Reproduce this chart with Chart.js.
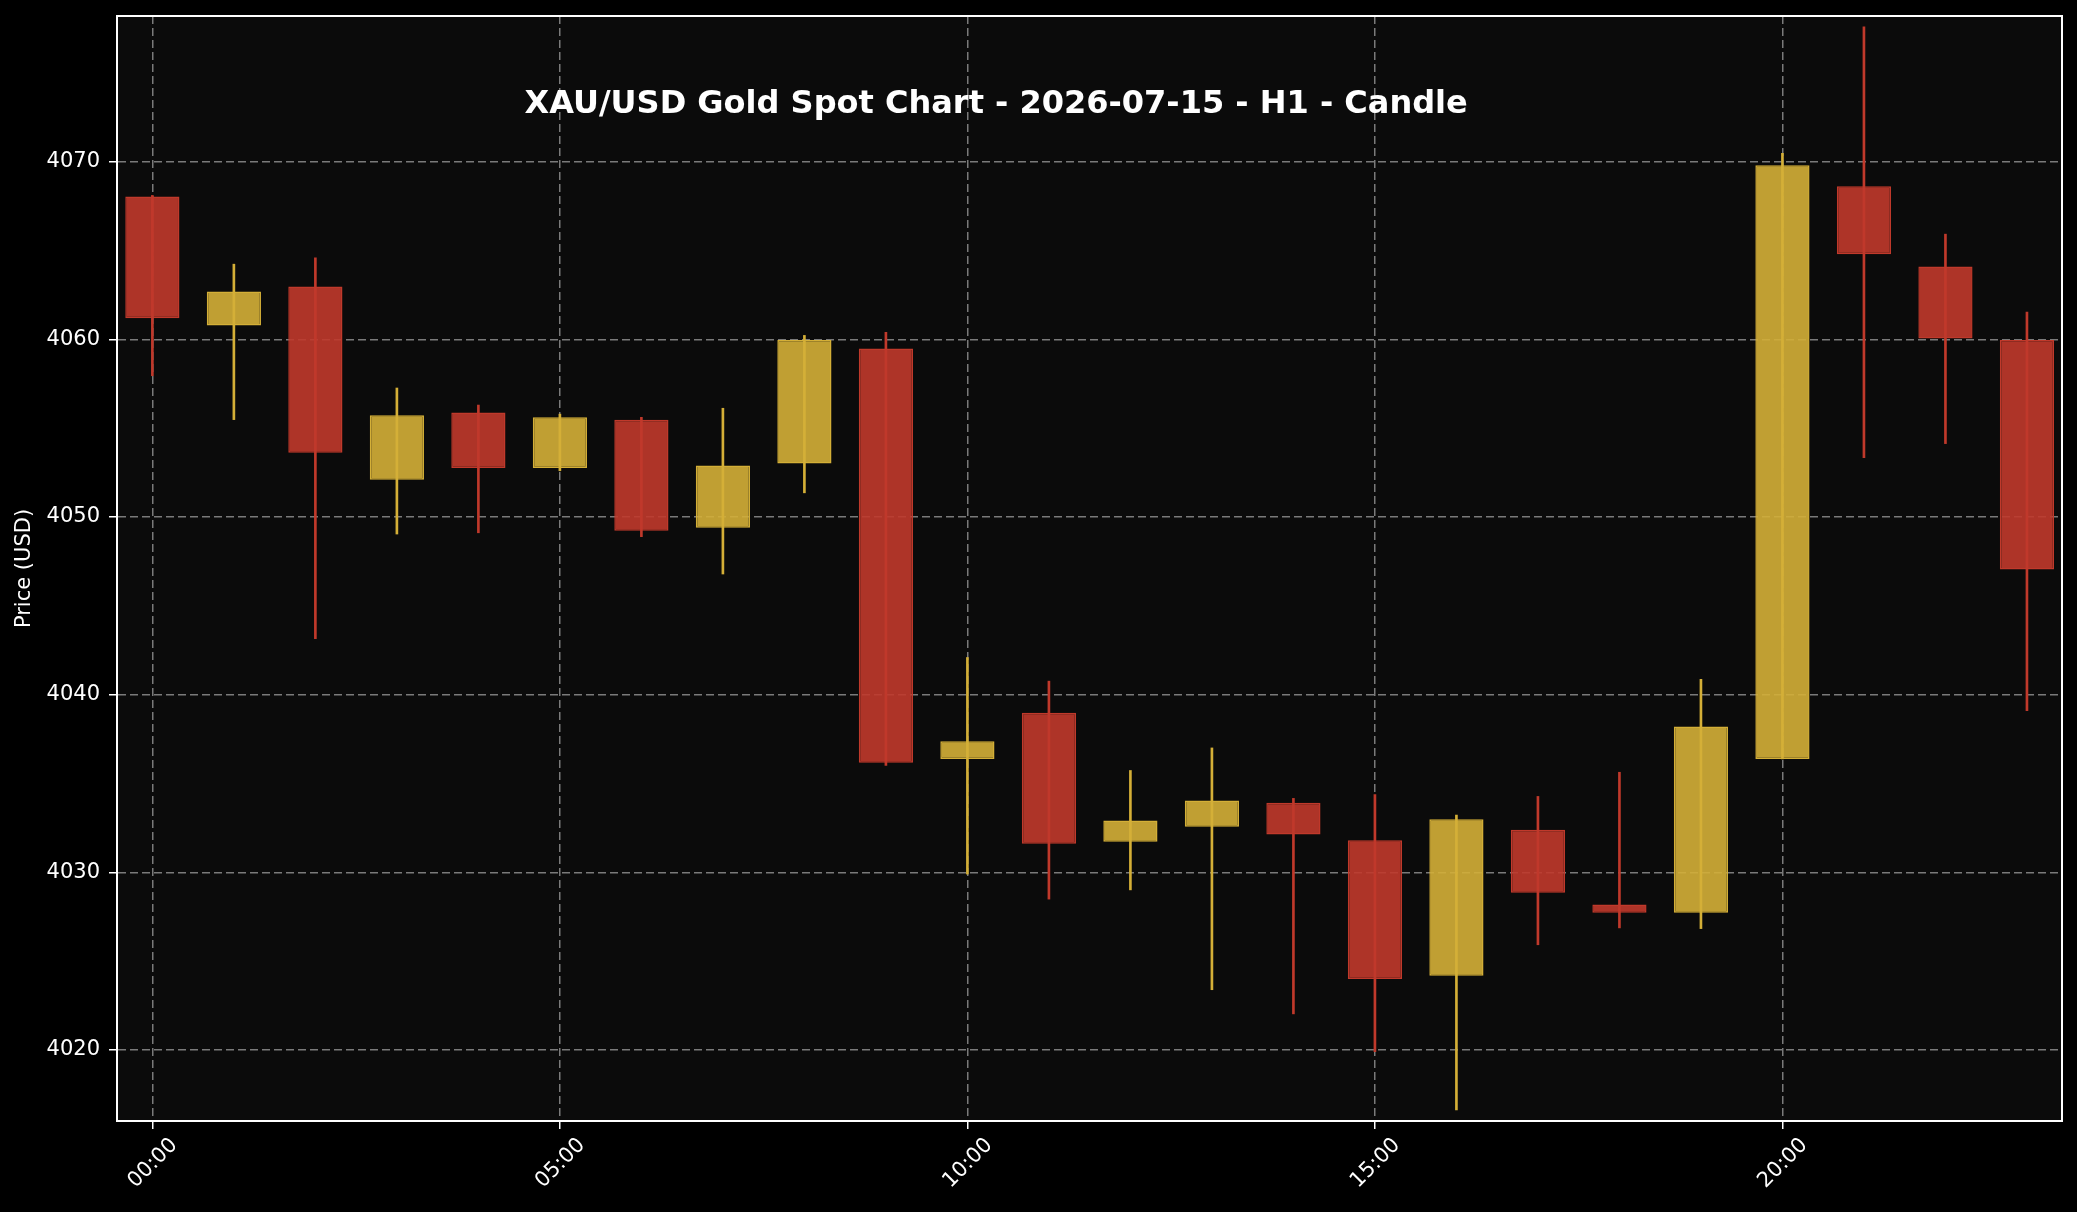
<!DOCTYPE html>
<html>
<head>
<meta charset="utf-8">
<script src="https://cdn.jsdelivr.net/npm/chart.js@4.4.1/dist/chart.umd.min.js"></script>
<style>
  html, body { margin: 0; padding: 0; background: #000000; }
  #wrap { width: 2077px; height: 1212px; }
</style>
</head>
<body>
<div id="wrap"><canvas id="c" width="2077" height="1212"></canvas></div>
<script>
// ---- Data (XAU/USD H1, 2026-07-15) ----
const hours  = [0, 1, 2, 3, 4, 5, 6, 7, 8, 9, 10, 11, 12, 13, 14, 15, 16, 17, 18, 19, 20, 21, 22, 23];
const opens  = [4068.04, 4060.78, 4062.98, 4052.09, 4055.88, 4052.76, 4055.48, 4049.40, 4053.01, 4059.49, 4036.38, 4038.98, 4031.72, 4032.57, 4033.92, 4031.80, 4024.18, 4032.40, 4028.19, 4027.72, 4036.38, 4068.62, 4064.10, 4059.96];
const highs  = [4068.10, 4064.23, 4064.59, 4057.26, 4056.30, 4055.79, 4055.61, 4056.12, 4060.22, 4060.40, 4042.09, 4040.76, 4035.73, 4037.00, 4034.16, 4034.37, 4033.22, 4034.27, 4035.63, 4040.86, 4070.47, 4077.59, 4065.92, 4061.54];
const lows   = [4057.95, 4055.48, 4043.15, 4049.04, 4049.11, 4052.60, 4048.89, 4046.79, 4051.36, 4036.01, 4029.90, 4028.49, 4029.01, 4023.39, 4022.03, 4019.90, 4016.62, 4025.92, 4026.87, 4026.83, 4036.38, 4053.34, 4054.13, 4039.10];
const closes = [4061.18, 4062.69, 4053.61, 4055.72, 4052.76, 4055.61, 4049.22, 4052.90, 4059.96, 4036.17, 4037.37, 4031.60, 4032.92, 4034.04, 4032.12, 4024.00, 4032.99, 4028.85, 4027.72, 4038.21, 4069.80, 4064.79, 4060.05, 4047.04];

const xTickValues = [0, 5, 10, 15, 20];
const xTickLabels = ['00:00', '05:00', '10:00', '15:00', '20:00'];
const yTickValues = [4020, 4030, 4040, 4050, 4060, 4070];

const titleText = 'XAU/USD Gold Spot Chart - 2026-07-15 - H1 - Candle';
const yAxisTitle = 'Price (USD)';

// ---- Styles ----
const UP = '#d4af37', DOWN = '#c0392b';
const UP_FILL = 'rgba(212,175,55,0.9)', DOWN_FILL = 'rgba(192,57,43,0.9)';
const GRID = 'rgba(160,160,160,0.75)';

const isUp = hours.map((h, i) => closes[i] >= opens[i]);
const bodyData = hours.map((h, i) => ({ x: h, y: [Math.min(opens[i], closes[i]), Math.max(opens[i], closes[i])] }));
const wickData = hours.map((h, i) => ({ x: h, y: [lows[i], highs[i]] }));

Chart.defaults.font.family = "'DejaVu Sans', sans-serif";
Chart.defaults.color = '#ffffff';

const bgPlugin = {
  id: 'bg',
  beforeDraw(chart) {
    const { ctx, chartArea: a } = chart;
    ctx.save();
    ctx.fillStyle = '#000000';
    ctx.fillRect(0, 0, chart.width, chart.height);
    ctx.fillStyle = '#0b0b0b';
    ctx.fillRect(a.left, a.top, a.right - a.left, a.bottom - a.top);
    ctx.restore();
  },
  afterDraw(chart) {
    const { ctx, chartArea: a } = chart;
    ctx.save();
    ctx.strokeStyle = '#ffffff';
    ctx.lineWidth = 2;
    ctx.strokeRect(a.left, a.top, a.right - a.left, a.bottom - a.top);
    ctx.fillStyle = '#ffffff';
    ctx.font = "bold 32px 'DejaVu Sans', sans-serif";
    ctx.textAlign = 'center';
    ctx.textBaseline = 'alphabetic';
    ctx.fillText(titleText, a.left + 0.452 * (a.right - a.left), 113);
    ctx.restore();
  }
};

const gridOpts = {
  color: GRID,
  lineWidth: 1.5,
  offset: false,
  drawTicks: true,
  tickLength: 8,
  tickColor: '#ffffff',
  tickWidth: 1.5,
  tickBorderDash: []
};

new Chart(document.getElementById('c'), {
  type: 'bar',
  data: {
    datasets: [
      {
        label: 'wick',
        data: wickData,
        backgroundColor: hours.map((h, i) => isUp[i] ? UP : DOWN),
        borderWidth: 0,
        barThickness: 2,
        grouped: false,
        order: 2
      },
      {
        label: 'body',
        data: bodyData,
        backgroundColor: hours.map((h, i) => isUp[i] ? UP_FILL : DOWN_FILL),
        borderColor: hours.map((h, i) => isUp[i] ? UP : DOWN),
        borderWidth: 1.5,
        borderSkipped: false,
        barPercentage: 0.665,
        categoryPercentage: 1,
        grouped: false,
        order: 1
      }
    ]
  },
  options: {
    responsive: false,
    animation: false,
    devicePixelRatio: 1,
    layout: { padding: { top: 16, right: 15, left: 0, bottom: 0 } },
    plugins: { legend: { display: false }, tooltip: { enabled: false }, title: { display: false } },
    scales: {
      x: {
        type: 'linear',
        offset: false,
        min: -0.434,
        max: 23.43,
        afterFit(s) { s.height = 91; s.paddingLeft = 0; s.paddingRight = 0; },
        afterBuildTicks(s) { s.ticks = xTickValues.map(v => ({ value: v })); },
        ticks: {
          autoSkip: false,
          minRotation: 45,
          maxRotation: 45,
          color: '#ffffff',
          font: { size: 21 },
          padding: 4,
          labelOffset: 22,
          callback: (v, i) => xTickLabels[i]
        },
        grid: gridOpts,
        border: { display: true, color: '#ffffff', width: 2, dash: [8, 4] }
      },
      y: {
        type: 'linear',
        min: 4016.0,
        max: 4078.2,
        afterFit(s) { s.width = 117; s.paddingTop = 0; s.paddingBottom = 0; },
        afterBuildTicks(s) { s.ticks = yTickValues.map(v => ({ value: v })); },
        ticks: {
          color: '#ffffff',
          font: { size: 21 },
          padding: 9,
          callback: v => String(v)
        },
        grid: gridOpts,
        border: { display: true, color: '#ffffff', width: 2, dash: [8, 4] },
        title: {
          display: true,
          text: yAxisTitle,
          color: '#ffffff',
          font: { size: 21 },
          padding: { top: 12, bottom: 0 }
        }
      }
    }
  },
  plugins: [bgPlugin]
});
</script>
</body>
</html>
